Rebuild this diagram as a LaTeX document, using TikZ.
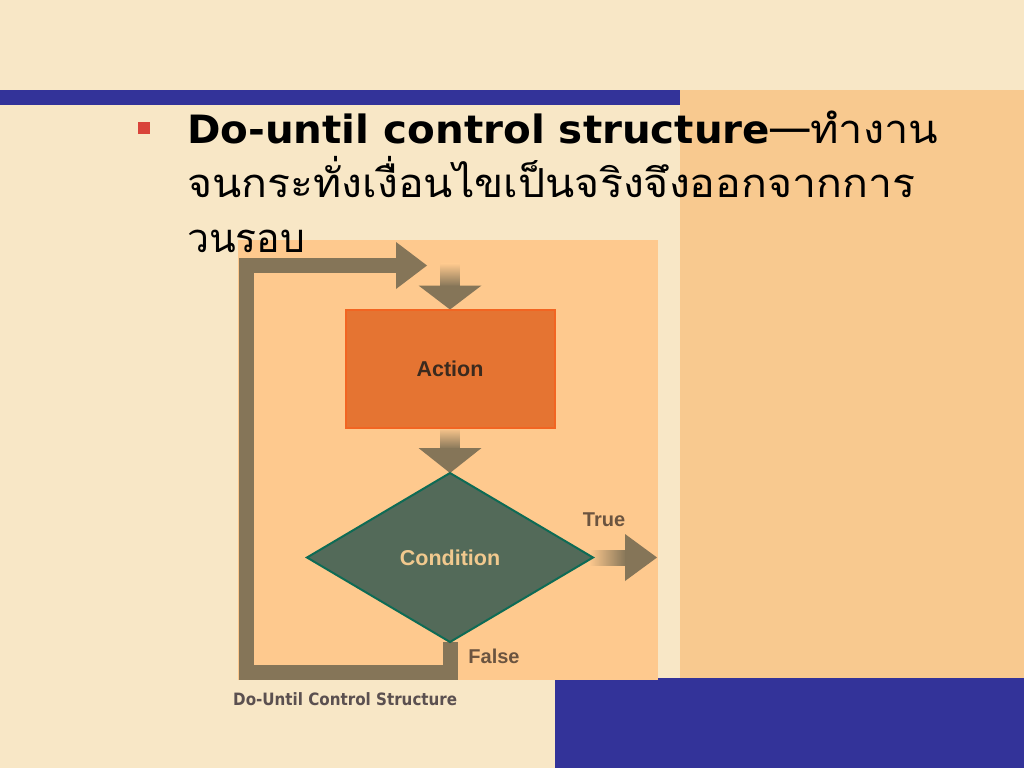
\documentclass[tikz,border=0pt]{standalone}
\usepackage{fontspec}
\usepackage{graphicx}
\usetikzlibrary{shapes.geometric,calc}
\newfontfamily\headfont{DejaVu Sans}
\newfontfamily\thaifont[Script=Thai]{Loma}
\newfontfamily\labfont{Liberation Sans}
\definecolor{cream}{HTML}{F8E7C6}
\definecolor{panel}{HTML}{F8C98F}
\definecolor{diagbg}{HTML}{FEC98E}
\definecolor{barblue}{HTML}{333399}
\definecolor{arrowc}{HTML}{857558}
\definecolor{actfill}{HTML}{E57432}
\definecolor{actline}{HTML}{F26522}
\definecolor{condfill}{HTML}{536A59}
\definecolor{condline}{HTML}{0E6B55}
\definecolor{condtext}{HTML}{F1C98E}
\definecolor{acttext}{HTML}{3B2A1E}
\definecolor{tftext}{HTML}{6B5440}
\definecolor{captext}{HTML}{5B5050}
\definecolor{bulletred}{HTML}{D9443A}
\pgfdeclarelayer{bgzero}
\pgfdeclarelayer{bgone}
\pgfsetlayers{bgzero,bgone,main}
\tikzset{
  actionbox/.style={draw=actline, line width=2pt, fill=actfill, minimum width=209pt, minimum height=118pt, inner sep=0pt, outer sep=0pt, font=\labfont\bfseries\fontsize{21.5}{24}\selectfont, text=acttext},
  decision/.style={diamond, draw=condline, line width=2pt, fill=condfill, minimum width=286pt, minimum height=169pt, inner sep=0pt, outer sep=0pt, font=\labfont\bfseries\fontsize{21.5}{24}\selectfont, text=condtext},
  tflabel/.style={font=\labfont\bfseries\fontsize{20}{23}\selectfont, text=tftext, inner sep=0pt},
  loopline/.style={draw=arrowc, line width=15pt, line join=miter},
  headfill/.style={fill=arrowc},
}
\begin{document}
\begin{tikzpicture}[x=1pt,y=-1pt]
\useasboundingbox (0,0) rectangle (1024,768);
% nodes
\node[actionbox] (action) at (450,368.5) {Action};
\node[decision] (cond) at (450,557.5) {Condition};
\node[tflabel] (truel) at (604,520) {True};
\node[tflabel] (falsel) at (494,656) {False};
\coordinate (trueend) at (657,557.5);
\coordinate (looptip) at (427,265.5);
\begin{pgfonlayer}{bgzero}
  \fill[cream] (0,0) rectangle (1024,768);
  \fill[panel] (680,90) rectangle (1024,678);
  \fill[barblue] (0,90) rectangle (680,105);
  \fill[barblue] (555,678) rectangle (1024,768);
  \fill[diagbg] (238,240) rectangle (658,680);
\end{pgfonlayer}
\begin{pgfonlayer}{bgone}
  % loop back
  \draw[loopline] (cond.south) -- ++(0,30.5) -| (246,265.5) -- ($(looptip)+(-31,0)$);
  \fill[headfill] ($(looptip)+(-31,-23.5)$) -- (looptip) -- ($(looptip)+(-31,23.5)$) -- cycle;
  % into action
  \shade[top color=diagbg, bottom color=arrowc] ($(action.north)+(-9.5,-46)$) rectangle ($(action.north)+(9.5,-23)$);
  \fill[headfill] ($(action.north)+(-31.5,-24)$) -- ($(action.north)+(31.5,-24)$) -- (action.north) -- cycle;
  % action to condition
  \shade[top color=diagbg, bottom color=arrowc] ($(action.south)+(-9.5,0)$) rectangle ($(cond.north)+(9.5,-24)$);
  \fill[headfill] ($(cond.north)+(-31.5,-25)$) -- ($(cond.north)+(31.5,-25)$) -- (cond.north) -- cycle;
  % true exit
  \shade[left color=diagbg, right color=arrowc] ($(cond.east)+(-4,-7.5)$) rectangle ($(trueend)+(-31,7.5)$);
  \fill[headfill] ($(trueend)+(-32,-23.5)$) -- (trueend) -- ($(trueend)+(-32,23.5)$) -- cycle;
\end{pgfonlayer}
% text
\fill[bulletred] (138,122) rectangle (150,134);
\node[anchor=base west, inner sep=0pt] (l1a) at (187,143) {\resizebox{583pt}{\height}{\headfont\bfseries\fontsize{39}{44}\selectfont Do-until control structure}};
\node[anchor=base west, inner sep=0pt] (l1b) at (770,143) {\resizebox{168pt}{\height}{\thaifont\fontsize{40}{44}\selectfont —ทำงาน}};
\node[anchor=base west, inner sep=0pt] (l2) at (187,197) {\resizebox{728pt}{\height}{\thaifont\fontsize{40}{44}\selectfont จนกระทั่งเงื่อนไขเป็นจริงจึงออกจากการ}};
\node[anchor=base west, inner sep=0pt] (l3) at (187,252) {\resizebox{118pt}{\height}{\thaifont\fontsize{40}{44}\selectfont วนรอบ}};
\node[anchor=base west, inner sep=0pt, text=captext] (cap) at (233,705) {\resizebox{224pt}{\height}{\headfont\bfseries\fontsize{17}{20}\selectfont Do-Until Control Structure}};
\end{tikzpicture}
\end{document}
